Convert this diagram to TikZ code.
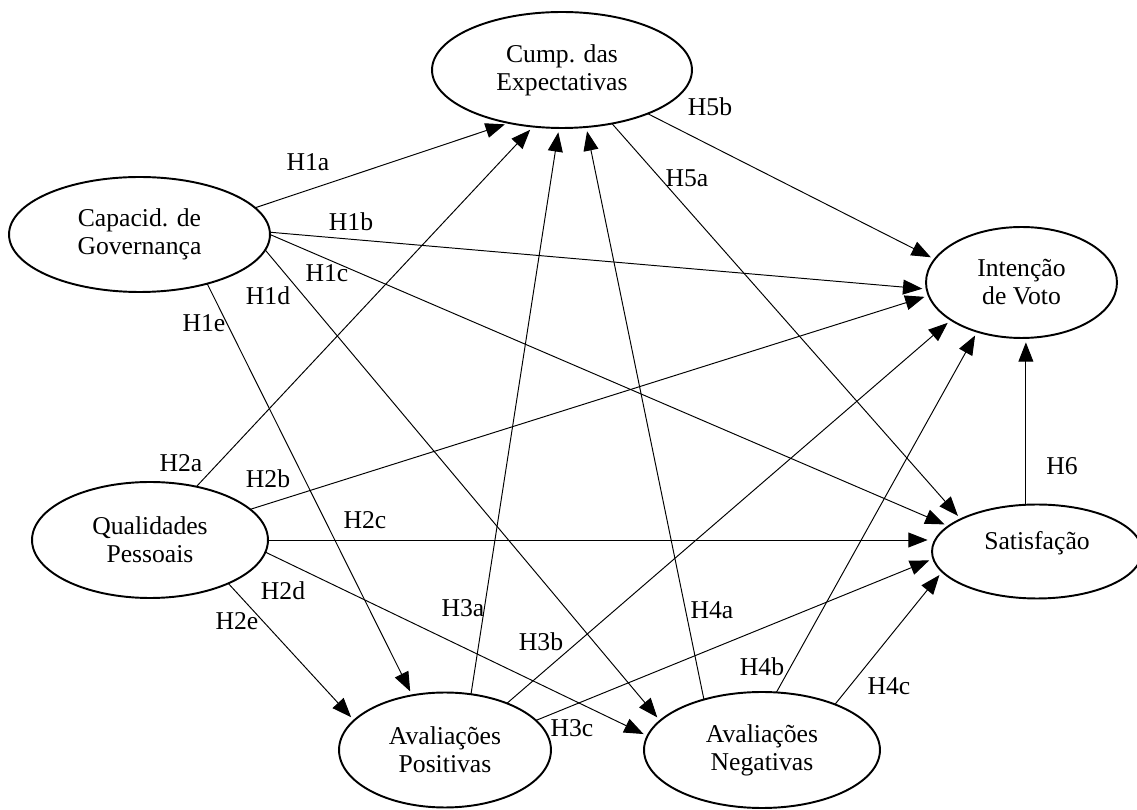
\documentclass[tikz,border=0pt]{standalone}
\usepackage{fontspec}
\setmainfont{Liberation Serif}
\usetikzlibrary{arrows.meta, shapes.geometric}

\begin{document}
\begin{tikzpicture}[x=0.02cm, y=-0.02cm,
    construto/.style={draw, ellipse, line width=1.1pt, inner sep=0pt, outer sep=0pt,
      align=center, font=\fontsize{14.6}{16}\selectfont},
    hip/.style={-{Triangle[length=11pt, width=8.5pt]}, line width=0.55pt, shorten >=2.5pt},
    rot/.style={font=\fontsize{14.6}{16}\selectfont, inner sep=0pt}]
  \useasboundingbox (0,0) rectangle (1137,810);
  % construtos (tamanhos em cm = px * 0.02)
  \node[construto, minimum width=5.22cm, minimum height=2.30cm] (cap)  at (139.5,234.5) {Capacid. de\\Governança};
  \node[construto, minimum width=5.20cm, minimum height=2.32cm] (cump) at (562,70)      {Cump. das\\Expectativas};
  \node[construto, minimum width=3.82cm, minimum height=2.22cm] (int)  at (1021.5,282.5) {Intenção\\de Voto};
  \node[construto, minimum width=4.72cm, minimum height=2.32cm] (qual) at (150,540)     {Qualidades\\Pessoais};
  \node[construto, minimum width=4.20cm, minimum height=1.88cm] (sat)  at (1037,551.5)  {\raisebox{4.5pt}[\height][\depth]{Satisfação}};
  \node[construto, minimum width=4.24cm, minimum height=2.30cm] (pos)  at (445,750)     {Avaliações\\Positivas};
  \node[construto, minimum width=4.72cm, minimum height=2.32cm] (neg)  at (762,750)     {Avaliações\\Negativas};

  % hipoteses
  \draw[hip] (cap.13.4)  -- (cump.-135);
  \draw[hip] (cap.1.5)   -- (int.184.5);
  \draw[hip] (cap.0.5)   -- (sat.164.1);
  \draw[hip] (cap.-7.9)  -- (neg.164.7);
  \draw[hip] (cap.-36.7) -- (pos.121.3);
  \draw[hip] (qual.49)   -- (cump.-117);
  \draw[hip] (qual.17.5) -- (int.188);
  \draw[hip] (qual.east) -- (qual.east -| sat.west);
  \draw[hip] (qual.-6.2) -- (neg.173.8);
  \draw[hip] (qual.-29.4) -- (pos.162.5);
  \draw[hip] (pos.65.9)  -- (cump.-93.6);
  \draw[hip] (pos.37.7)  -- (int.208.2);
  \draw[hip] (pos.18.1)  -- (sat.184.3);
  \draw[hip] (neg.139.5) -- (cump.-67.6);
  \draw[hip] (neg.76.7)  -- (int.228.3);
  \draw[hip] (neg.32.3)  -- (sat.192.9);
  \draw[hip] (cump.-47.4) -- (sat.157.4);
  \draw[hip] (cump.-27.3) -- (int.165.3);
  \coordinate (h6) at (sat.north -| int.south);
  \draw[hip] ([xshift=2.5pt]h6) -- ([xshift=2.5pt]int.south);

  \node[rot] (l1a) at (308,162) {H1a};
  \node[rot] (l1b) at (351,222) {H1b};
  \node[rot] (l1c) at (327,273) {H1c};
  \node[rot] (l1d) at (268,296) {H1d};
  \node[rot] (l1e) at (204,323) {H1e};
  \node[rot] (l2a) at (181,463) {H2a};
  \node[rot] (l2b) at (268,479) {H2b};
  \node[rot] (l2c) at (365,520) {H2c};
  \node[rot] (l2d) at (283,591) {H2d};
  \node[rot] (l2e) at (237,621) {H2e};
  \node[rot] (l3a) at (463,608) {H3a};
  \node[rot] (l3b) at (541,642) {H3b};
  \node[rot] (l3c) at (572,728) {H3c};
  \node[rot] (l4a) at (712,610) {H4a};
  \node[rot] (l4b) at (762,667) {H4b};
  \node[rot] (l4c) at (889,686) {H4c};
  \node[rot] (l5a) at (687,178) {H5a};
  \node[rot] (l5b) at (710,107) {H5b};
  \node[rot] (l6)  at (1062,466) {H6};
\end{tikzpicture}
\end{document}
